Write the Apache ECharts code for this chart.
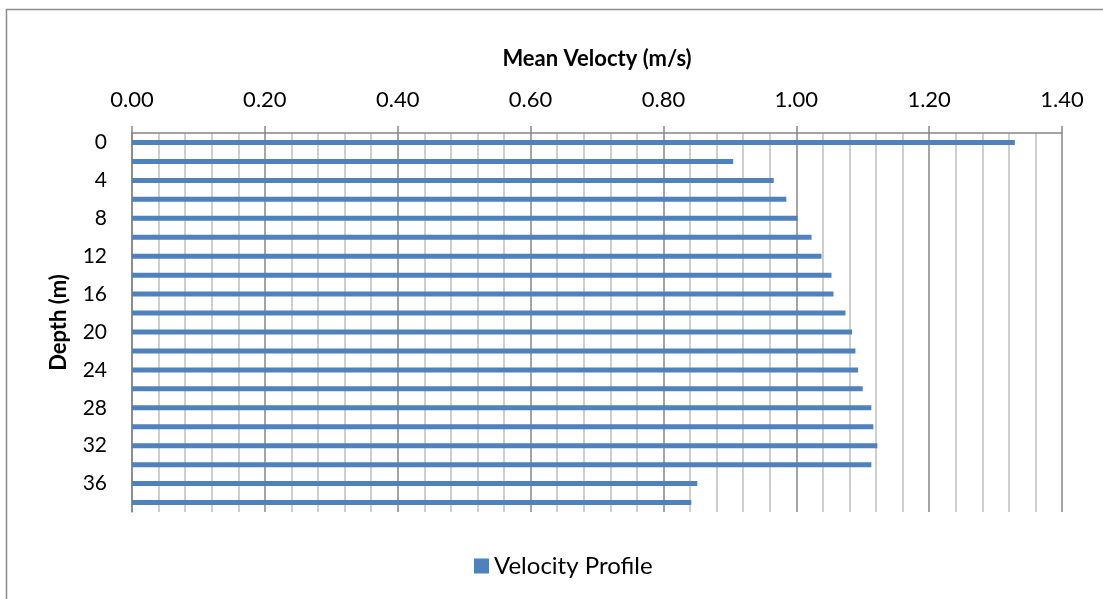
<!DOCTYPE html>
<html>
<head>
<meta charset="utf-8">
<script src="https://cdn.jsdelivr.net/npm/echarts@6/dist/echarts.min.js"></script>
<style>
html,body{margin:0;padding:0;background:#fff;}
#chart{width:1103px;height:599px;}
</style>
</head>
<body>
<div id="chart"></div>
<script>
var depths = ['0','2','4','6','8','10','12','14','16','18','20','22','24','26','28','30','32','34','36','38'];
var velocities = [1.329,0.905,0.966,0.985,1.002,1.023,1.038,1.053,1.056,1.074,1.084,1.089,1.093,1.100,1.113,1.116,1.122,1.113,0.851,0.842];
var seriesName = 'Velocity Profile';
var xTitle = 'Mean Velocty (m/s)';
var yTitle = 'Depth (m)';

var FONT = 'Lato';
var chart = echarts.init(document.getElementById('chart'), null, {renderer:'canvas'});
chart.setOption({
  animation: false,
  backgroundColor: '#fff',
  textStyle: {fontFamily: FONT, color: '#000'},
  graphic: [{
    type: 'rect', silent: true,
    shape: {x: 6.5, y: 9.5, width: 1120, height: 620},
    style: {fill: 'none', stroke: '#8c8c8c', lineWidth: 1.5}
  }],
  grid: {left: 132, right: 41, top: 133, bottom: 87, containLabel: false},
  legend: {
    data: [seriesName],
    left: 469, top: 549,
    itemWidth: 15, itemHeight: 15, itemGap: 7,
    icon: 'rect',
    textStyle: {fontFamily: FONT, fontSize: 24, color: '#000', padding: [0,0,0,0]}
  },
  xAxis: {
    type: 'value', position: 'top',
    min: 0, max: 1.4, interval: 0.2,
    name: xTitle, nameLocation: 'middle', nameGap: 63,
    nameTextStyle: {fontFamily: FONT, fontSize: 22, fontWeight: 'bold', color: '#000'},
    axisLine: {show: true, lineStyle: {color: '#868686', width: 1.5}},
    axisTick: {show: true, length: 7, lineStyle: {color: '#868686', width: 1.5}},
    axisLabel: {fontFamily: FONT, fontSize: 22, color: '#000', margin: 22,
      formatter: function(v){ return v.toFixed(2); }},
    splitLine: {show: true, lineStyle: {color: '#868686', width: 1.5}},
    minorTick: {show: false, splitNumber: 5},
    minorSplitLine: {show: true, lineStyle: {color: '#bfbfbf', width: 1.5}}
  },
  yAxis: {
    type: 'category', inverse: true,
    data: depths,
    name: yTitle, nameLocation: 'middle', nameGap: 62, nameRotate: 90,
    nameTextStyle: {fontFamily: FONT, fontSize: 22, fontWeight: 'bold', color: '#000'},
    axisLine: {show: true, lineStyle: {color: '#868686', width: 1.5}},
    axisTick: {show: false},
    axisLabel: {interval: 1, fontFamily: FONT, fontSize: 21, color: '#000', margin: 25},
    splitLine: {show: false}
  },
  series: [{
    name: seriesName, type: 'bar',
    data: velocities,
    barWidth: 5,
    itemStyle: {color: '#4f81bd'}
  }]
});
</script>
</body>
</html>
